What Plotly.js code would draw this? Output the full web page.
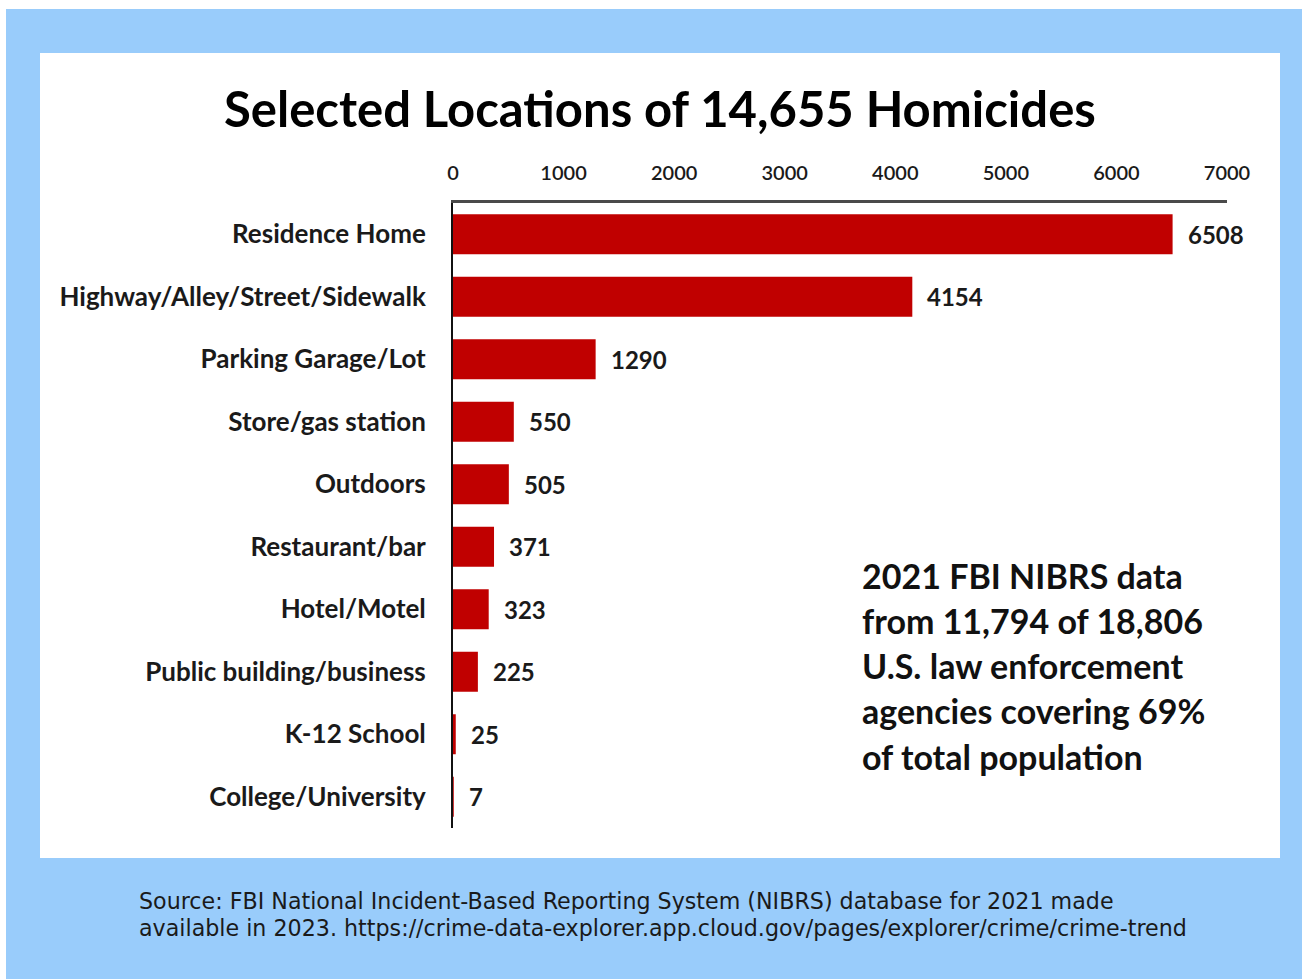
<!DOCTYPE html>
<html>
<head>
<meta charset="utf-8">
<script src="https://cdn.plot.ly/plotly-3.0.1.min.js"></script>
<style>
  html, body { margin: 0; padding: 0; background: #ffffff; }
  #chart { position: absolute; left: 6px; top: 9px; width: 1296px; height: 970px; }
</style>
</head>
<body>
<div id="chart"></div>
<script>
// Data
const categories = [
  "Residence Home",
  "Highway/Alley/Street/Sidewalk",
  "Parking Garage/Lot",
  "Store/gas station",
  "Outdoors",
  "Restaurant/bar",
  "Hotel/Motel",
  "Public building/business",
  "K-12 School",
  "College/University"
];
const homicides = [6508, 4154, 1290, 550, 505, 371, 323, 225, 25, 7];
const xTickValues = [0, 1000, 2000, 3000, 4000, 5000, 6000, 7000];
const xTickLabels = ["0", "1000", "2000", "3000", "4000", "5000", "6000", "7000"];

const titleText = "Selected Locations of 14,655 Homicides";
const noteLines = [
  "2021 FBI NIBRS data",
  "from 11,794 of 18,806",
  "U.S. law enforcement",
  "agencies covering 69%",
  "of total population"
];
const sourceLines = [
  "Source: FBI National Incident-Based Reporting System (NIBRS) database for 2021 made",
  "available in 2023. https://crime-data-explorer.app.cloud.gov/pages/explorer/crime/crime-trend"
];

// Layout geometry (div is 1296x970, offset 6,9 on page)
const W = 1296, H = 970;
const M = { l: 447, r: 75, t: 194, b: 151 };
const PW = W - M.l - M.r, PH = H - M.t - M.b;
const px = x => (x - 6 - M.l) / PW;           // page x -> paper x
const py = y => (H - M.b - (y - 9)) / PH;     // page y -> paper y

const FONT = "Lato, 'Open Sans', sans-serif";

const trace = {
  type: "bar",
  orientation: "h",
  y: categories,
  x: homicides,
  marker: { color: "#c00000", line: { color: "#c00000", width: 0 } },
  hoverinfo: "x+y",
  showlegend: false
};

const annotations = [];
homicides.forEach((v, i) => {
  annotations.push({
    x: v, y: categories[i], xref: "x", yref: "y",
    text: String(v), showarrow: false,
    xanchor: "left", yanchor: "middle", xshift: 13,
    font: { family: FONT, size: 24, color: "#1a1a1a", weight: 700 }
  });
});
noteLines.forEach((t, i) => {
  annotations.push({
    x: px(860), y: py(575 + i * 45.3), xref: "paper", yref: "paper",
    text: t, showarrow: false, xanchor: "left", yanchor: "middle",
    font: { family: FONT, size: 34, color: "#111111", weight: 700 }
  });
});
sourceLines.forEach((t, i) => {
  annotations.push({
    x: px(137), y: py(901 + i * 27), xref: "paper", yref: "paper",
    text: t, showarrow: false, xanchor: "left", yanchor: "middle",
    font: { family: "'DejaVu Sans', sans-serif", size: 22.2, color: "#1a1a1a" }
  });
});
annotations.push({
  x: px(660), y: py(108), xref: "paper", yref: "paper",
  text: titleText, showarrow: false, xanchor: "center", yanchor: "middle",
  font: { family: FONT, size: 49, color: "#000000", weight: 700 }
});

const layout = {
  width: W, height: H,
  margin: M,
  paper_bgcolor: "#99ccfb",
  plot_bgcolor: "#ffffff",
  bargap: 0.36,
  xaxis: {
    side: "top",
    range: [0, 7000],
    tickvals: xTickValues,
    ticktext: xTickLabels,
    showgrid: false,
    zeroline: false,
    showline: true,
    linecolor: "#4a4a4a",
    linewidth: 3,
    ticks: "",
    ticklabelstandoff: 12,
    tickfont: { family: FONT, size: 20, color: "#1a1a1a", weight: 600 },
    fixedrange: true
  },
  yaxis: {
    autorange: "reversed",
    range: [9.5, -0.5],
    showgrid: false,
    zeroline: false,
    showline: true,
    linecolor: "#111111",
    linewidth: 2,
    ticks: "",
    ticklabelstandoff: 20,
    tickfont: { family: FONT, size: 26, color: "#1a1a1a", weight: 700 },
    fixedrange: true
  },
  shapes: [{
    type: "rect", xref: "paper", yref: "paper", layer: "below",
    x0: px(40), x1: px(1280), y0: py(858), y1: py(53),
    fillcolor: "#ffffff", line: { width: 0 }
  }],
  annotations: annotations
};

Plotly.newPlot("chart", [trace], layout, { displayModeBar: false, staticPlot: true });
</script>
</body>
</html>
